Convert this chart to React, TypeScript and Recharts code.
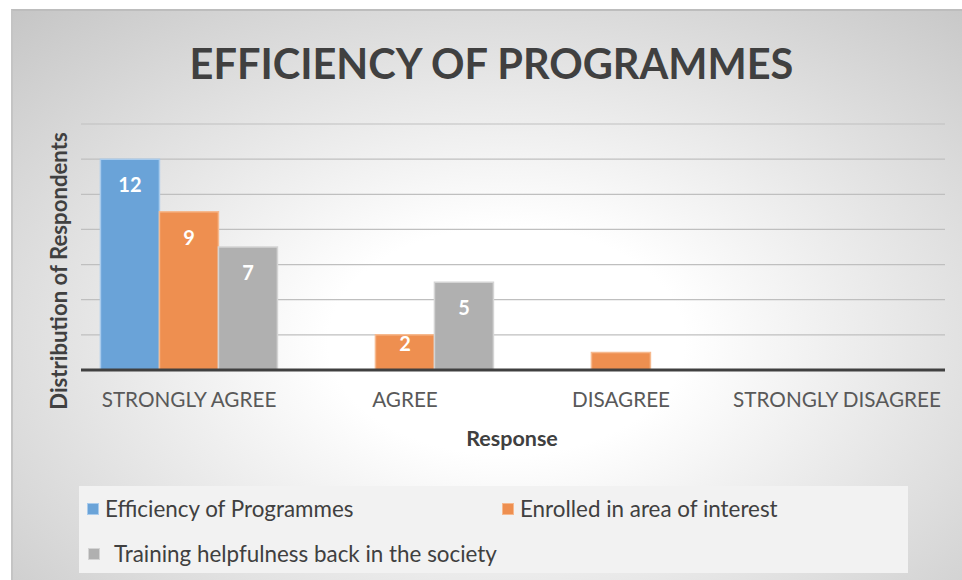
import React from 'react';
import { BarChart, Bar, XAxis, YAxis, CartesianGrid, LabelList } from 'recharts';

const categories = ['STRONGLY AGREE', 'AGREE', 'DISAGREE', 'STRONGLY DISAGREE'];
const efficiency = [12, 0, 0, 0];
const enrolled = [9, 2, 1, 0];
const training = [7, 5, 0, 0];
const yTicks = [0, 2, 4, 6, 8, 10, 12, 14];

const series = [
  { key: 'efficiency', name: 'Efficiency of Programmes', fill: '#6aa3d8', stroke: '#a9cbec' },
  { key: 'enrolled', name: 'Enrolled in area of interest', fill: '#ee8f50', stroke: '#f6b98e' },
  { key: 'training', name: 'Training helpfulness back in the society', fill: '#b0b0b0', stroke: '#d4d4d4' },
];

const data = categories.map((c, i) => ({
  cat: c,
  efficiency: efficiency[i],
  enrolled: enrolled[i],
  training: training[i],
}));

const FONT = 'Lato, "Open Sans", sans-serif';

function BarLabel(props: any) {
  const { x, y, width, height, value } = props;
  if (!value || height < 25) return null;
  const dy = height > 50 ? 28 : 11;
  return (
    <text x={x + width / 2} y={y + dy} textAnchor="middle" dominantBaseline="middle"
      fill="#fff" fontFamily={FONT} fontWeight={700} fontSize={20}>{value}</text>
  );
}

function CatTick(props: any) {
  const { x, y, payload } = props;
  return (
    <text x={x} y={y + 32} textAnchor="middle" dominantBaseline="middle"
      fill="#595959" fontFamily={FONT} fontSize={20.7}>{payload.value}</text>
  );
}

const NoTick = () => <g />;

export default function App() {
  return (
    <div style={{ position: 'absolute', left: 11, top: 9, width: 951, height: 571,
      background: 'radial-gradient(ellipse 75% 80% at 52% 58%, #ffffff 25%, #c6c6c6 100%)',
      borderTop: '2px solid #bdbdbd', borderLeft: '2px solid #c4c4c4', boxSizing: 'border-box', fontFamily: FONT }}>
      <div style={{ position: 'absolute', left: 0, top: 0, width: 951, height: 571 }}>
        <BarChart width={951} height={571} data={data} barCategoryGap="9%" barGap={0}
          margin={{ top: 113, right: 19, bottom: 132, left: 68 }}>
          <CartesianGrid vertical={false} stroke="#bfbfbf" strokeWidth={1.2} />
          <XAxis dataKey="cat" height={80} tickLine={false} tickSize={0} tickMargin={0}
            axisLine={{ stroke: '#404040', strokeWidth: 3 }} tick={<CatTick />} interval={0} />
          <YAxis width={0} domain={[0, 14]} ticks={yTicks} tick={NoTick} axisLine={false} tickLine={false} />
          {series.map((s) => (
            <Bar key={s.key} dataKey={s.key} name={s.name} fill={s.fill} stroke={s.stroke} strokeWidth={1.5}
              isAnimationActive={false}>
              <LabelList dataKey={s.key} content={<BarLabel />} />
            </Bar>
          ))}
        </BarChart>
      </div>
      <div style={{ position: 'absolute', left: 0, width: 951, top: 27, textAlign: 'center', fontSize: 41.5,
        fontWeight: 700, color: '#404040', lineHeight: '50px' }}>
        <span style={{ position: 'relative', left: 3 }}>EFFICIENCY OF PROGRAMMES</span>
      </div>
      <div style={{ position: 'absolute', left: 45.5, top: 259.5, width: 0, height: 0 }}>
        <div style={{ position: 'absolute', left: -200, top: -15, width: 400, lineHeight: '30px', textAlign: 'center',
          transform: 'rotate(-90deg)', fontSize: 22.2, fontWeight: 700, color: '#404040', whiteSpace: 'nowrap' }}>
          Distribution of Respondents
        </div>
      </div>
      <div style={{ position: 'absolute', left: 299, width: 400, top: 412, lineHeight: '30px', textAlign: 'center',
        fontSize: 21.5, fontWeight: 700, color: '#404040' }}>Response</div>
      <div style={{ position: 'absolute', left: 66, top: 475, width: 829, height: 87, background: '#f2f2f2',
        fontSize: 22.4, color: '#404040' }}>
        {series.map((s, i) => (
          <div key={s.key} style={{ position: 'absolute', left: [8, 423, 9][i], top: [10, 10, 55][i],
            display: 'flex', alignItems: 'center', whiteSpace: 'nowrap', lineHeight: '26px' }}>
            <span style={{ display: 'inline-block', width: 12, height: 12, background: s.fill,
              border: `1px solid ${s.stroke}`, boxSizing: 'border-box', marginRight: i === 2 ? 14 : 6 }} />
            {s.name}
          </div>
        ))}
      </div>
    </div>
  );
}
